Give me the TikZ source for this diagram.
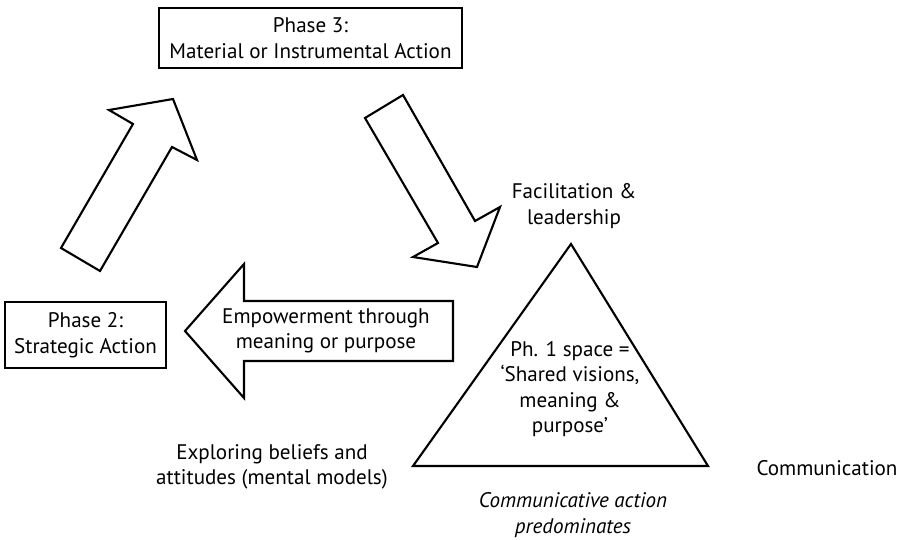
\documentclass[tikz,border=0pt]{standalone}
\usepackage{fontspec}
\setmainfont{PT Sans}
\usetikzlibrary{positioning, calc}
\definecolor{ink}{RGB}{0,0,0}
\tikzset{
  phase/.style={rectangle, draw=ink, line width=1.2pt, fill=white,
                align=center, font=\fontsize{12}{14.5}\selectfont},
  blockarrow/.style={draw=ink, line width=1.2pt, line join=miter, fill=white},
  label/.style={align=center, font=\fontsize{12}{14.5}\selectfont},
  note/.style={align=center, font=\fontsize{12}{14.5}\selectfont\itshape},
}

\begin{document}
\begin{tikzpicture}[x=0.02cm, y=-0.02cm]
    \useasboundingbox (0,0) rectangle (902,540);

    % phase boxes
    \node[phase, minimum width=303*0.02cm, minimum height=60*0.02cm] (phase3) at (310.5,38) {Phase 3:\\Material or Instrumental Action};
    \node[phase, minimum width=161*0.02cm, minimum height=66*0.02cm] (phase2) at (85.5,335) {Phase 2:\\Strategic Action};

    % block arrows
    \draw[blockarrow] (61,248) -- (133,124) -- (109,110) -- (173,99) -- (197,160) -- (172,147) -- (100,271) -- cycle;
    \draw[blockarrow] (365,118) -- (403,95) -- (475,221) -- (500,207) -- (477,267) -- (413,257) -- (438,243) -- cycle;
    \draw[blockarrow] (185,331) -- (244,264) -- (244,301) -- (453,301) -- (453,361) -- (244,361) -- (244,398) -- cycle;
    \node[label] (empower) at (326,331) {Empowerment through\\meaning or purpose};

    % phase 1 space
    \draw[blockarrow] (571,244) coordinate (apex) -- (413,466) coordinate (corner1) -- (708,466) coordinate (corner2) -- cycle;
    \node[label] (space) at (570,389) {Ph. 1 space =\\`Shared visions,\\meaning \&\\purpose'};

    \node[label] (facil) at (574,206) {Facilitation \&\\leadership};
    \node[label] (explore) at (272,467) {Exploring beliefs and\\attitudes (mental models)};
    \node[label] (comm) at (827,468) {Communication};
    \node[note] (predom) at (573,515) {Communicative action\\predominates};
\end{tikzpicture}
\end{document}
